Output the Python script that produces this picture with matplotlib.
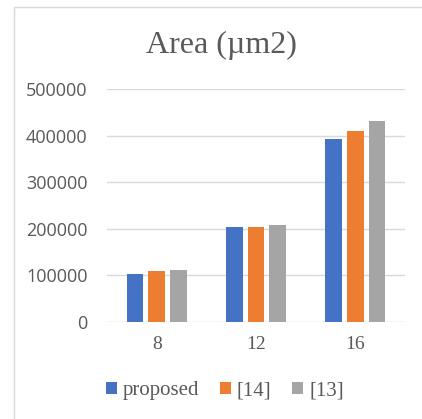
import matplotlib
matplotlib.use("Agg")
import matplotlib.pyplot as plt
from matplotlib.patches import Rectangle
import numpy as np

categories = ["8", "12", "16"]
series_names = ["proposed", "[14]", "[13]"]
proposed = [102000, 204000, 392000]
ref14 = [108000, 204000, 410000]
ref13 = [111000, 207000, 431000]
y_ticks = [0, 100000, 200000, 300000, 400000, 500000]

colors = ["#4472C4", "#ED7D31", "#A5A5A5"]
text_gray = "#595959"
grid_gray = "#D9D9D9"

fig = plt.figure(figsize=(4.22, 4.19), dpi=100)
fig.patch.set_facecolor("white")

# chart-area frame
fig.patches.append(Rectangle((14 / 422, -0.1), 1.2, (419 - 7) / 419 + 0.1,
                             transform=fig.transFigure, fill=False,
                             edgecolor=grid_gray, linewidth=1.0))

ax = fig.add_axes([107 / 422, (419 - 321.7) / 419, 298 / 422, (321.7 - 89) / 419])
x = np.arange(len(categories))
width = 0.17
step = 0.218
for i, (vals, name) in enumerate(zip([proposed, ref14, ref13], series_names)):
    ax.bar(x + (i - 1) * step, vals, width, color=colors[i], label=name, zorder=3)

ax.set_xlim(-0.5, len(categories) - 0.5)
ax.set_ylim(0, 500000)
ax.set_yticks(y_ticks)
ax.set_yticklabels([str(v) for v in y_ticks], family="Open Sans",
                   fontsize=13, color=text_gray)
ax.set_xticks(x)
ax.set_xticklabels(categories, family="Liberation Serif", fontsize=14,
                   color=text_gray)
ax.tick_params(axis="both", length=0)
ax.tick_params(axis="y", pad=14)
ax.tick_params(axis="x", pad=10)
ax.grid(axis="y", color=grid_gray, linewidth=1.0, zorder=0)
for s in ax.spines.values():
    s.set_visible(False)

fig.text(221 / 422, 1 - 45 / 419, "Area (µm2)", family="Liberation Serif",
         fontsize=23, color=text_gray, ha="center", va="center")

leg = fig.legend(loc="center", bbox_to_anchor=(225 / 422, 1 - 391 / 419),
                 ncol=3, frameon=False, handlelength=0.5, handleheight=0.5,
                 handletextpad=0.3, columnspacing=1.0,
                 prop={"family": "Liberation Serif", "size": 15})
for t in leg.get_texts():
    t.set_color(text_gray)

fig.savefig("out.png", dpi=100, facecolor="white")
